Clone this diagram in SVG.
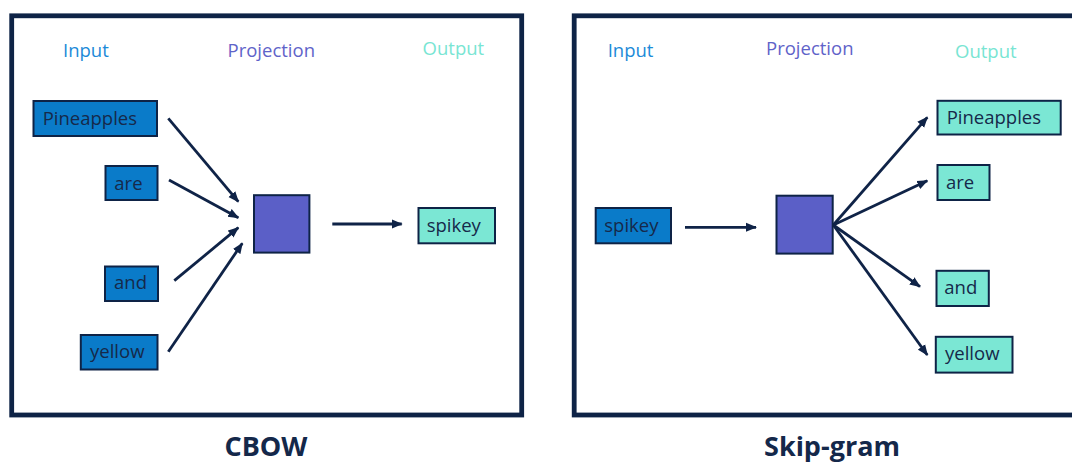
<svg xmlns="http://www.w3.org/2000/svg" width="1072" height="463" viewBox="0 0 1072 463">
<style>
.frame{fill:#ffffff;stroke:#0e2346;stroke-width:4.8}
.box{stroke:#0e2346;stroke-width:2}
.in{fill:#0a7bc9}
.out{fill:#7be7d4}
.proj{fill:#5b5fc7}
.t{font-family:"Open Sans","Liberation Sans",sans-serif;font-size:18.5px;fill:#16294a}
.hIn{font-family:"Open Sans","Liberation Sans",sans-serif;font-size:18.5px;fill:#1c8ad8}
.hProj{font-family:"Open Sans","Liberation Sans",sans-serif;font-size:18.5px;fill:#5f63c9}
.hOut{font-family:"Open Sans","Liberation Sans",sans-serif;font-size:18.5px;fill:#79e5d3}
.title{font-family:"Open Sans","Liberation Sans",sans-serif;font-size:27px;font-weight:bold;fill:#14284a}
.arr{stroke:#0f2347;stroke-width:2.8;fill:none;marker-end:url(#ah)}
</style>
<defs>
<marker id="ah" markerUnits="userSpaceOnUse" markerWidth="11" markerHeight="10" refX="10" refY="5" orient="auto" viewBox="0 0 11 10">
<path d="M0,0.5 L11,5 L0,9.5 z" fill="#0f2347"/>
</marker>
</defs>
<rect width="1072" height="463" fill="#ffffff"/>
<g id="cbow-frame"><rect class="frame" x="11.7" y="15.8" width="510" height="399.2"/></g>
<g id="skipgram-frame"><rect class="frame" x="574.2" y="15.8" width="520" height="399.2"/></g>

<g id="cbow-headers">
<text class="hIn" x="63" y="57.3">Input</text>
<text class="hProj" x="227.5" y="57.3">Projection</text>
<text class="hOut" x="422.6" y="55">Output</text>
</g>
<g id="sg-headers">
<text class="hIn" x="607.7" y="57.3">Input</text>
<text class="hProj" x="766" y="55">Projection</text>
<text class="hOut" x="955" y="58.3">Output</text>
</g>

<g id="cbow-pineapples"><rect class="box in" x="33.5" y="101" width="123.5" height="35"/><text class="t" x="42.7" y="125">Pineapples</text></g>
<g id="cbow-are"><rect class="box in" x="105.5" y="166" width="52" height="34"/><text class="t" x="114.3" y="190">are</text></g>
<g id="cbow-and"><rect class="box in" x="105" y="266.5" width="53" height="34.5"/><text class="t" x="114" y="289.3">and</text></g>
<g id="cbow-yellow"><rect class="box in" x="80.8" y="335" width="76.7" height="34.5"/><text class="t" x="90" y="358.3">yellow</text></g>
<g id="cbow-projection"><rect class="box proj" x="254" y="195.2" width="55.4" height="57.4"/></g>
<g id="cbow-spikey"><rect class="box out" x="418.5" y="208" width="76.5" height="35.3"/><text class="t" x="426.7" y="231.7">spikey</text></g>

<g id="sg-spikey"><rect class="box in" x="595.7" y="208" width="75.3" height="35.3"/><text class="t" x="604.3" y="231.7">spikey</text></g>
<g id="sg-projection"><rect class="box proj" x="776.5" y="195.7" width="56.2" height="57.9"/></g>
<g id="sg-pineapples"><rect class="box out" x="937.5" y="100.8" width="123.2" height="33.7"/><text class="t" x="946.7" y="124.3">Pineapples</text></g>
<g id="sg-are"><rect class="box out" x="937.5" y="165" width="52" height="35"/><text class="t" x="946" y="189">are</text></g>
<g id="sg-and"><rect class="box out" x="936.5" y="270.8" width="52.3" height="35.2"/><text class="t" x="944.3" y="294">and</text></g>
<g id="sg-yellow"><rect class="box out" x="935.8" y="336.8" width="76.7" height="35.8"/><text class="t" x="945" y="360">yellow</text></g>

<g id="connectors">
<line class="arr" x1="168.3" y1="118.3" x2="238.3" y2="201.7"/>
<line class="arr" x1="169" y1="180" x2="238.3" y2="217.7"/>
<line class="arr" x1="174.3" y1="280.7" x2="238.3" y2="227.7"/>
<line class="arr" x1="168.3" y1="351.7" x2="242.3" y2="243.3"/>
<line class="arr" x1="332.3" y1="224" x2="401.7" y2="224"/>
<line class="arr" x1="685" y1="227.3" x2="756" y2="227.3"/>
<line class="arr" x1="833.3" y1="225" x2="927.3" y2="117.3"/>
<line class="arr" x1="833.3" y1="225" x2="927.3" y2="180.7"/>
<line class="arr" x1="833.3" y1="225" x2="920" y2="286.7"/>
<line class="arr" x1="833.3" y1="225" x2="927.3" y2="355"/>
</g>

<g id="titles">
<text class="title" x="266" y="456" text-anchor="middle">CBOW</text>
<text class="title" x="832" y="456" text-anchor="middle">Skip-gram</text>
</g>
</svg>
